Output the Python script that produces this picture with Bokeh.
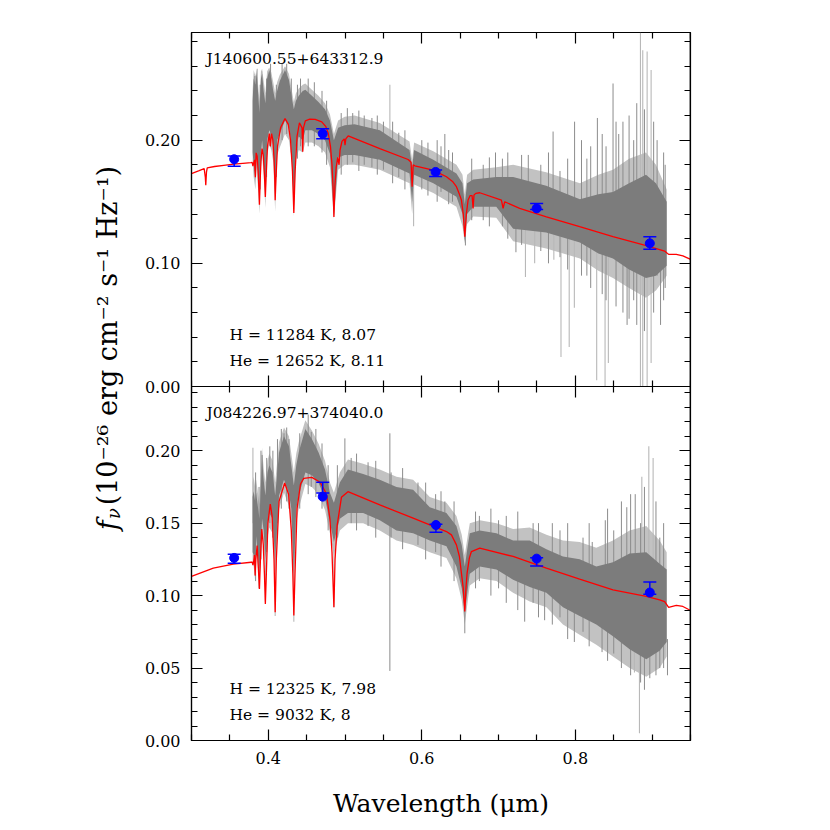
import math
from bokeh.plotting import figure
from bokeh.layouts import row
from bokeh.models import (Range1d, LinearAxis, FixedTicker, Label, Whisker,
                          ColumnDataSource, TeeHead, NumeralTickFormatter, CustomJSTickFormatter)
from bokeh.embed import file_html
from bokeh.resources import INLINE

FONT = "DejaVu Serif"

# ---------------- axis ticks ----------------
x_major = [0.4, 0.6, 0.8]
x_minor = [0.30, 0.35, 0.45, 0.50, 0.55, 0.65, 0.70, 0.75, 0.85, 0.90, 0.95]
top_y_major = [0.0, 0.1, 0.2]
top_y_minor = [0.02, 0.04, 0.06, 0.08, 0.12, 0.14, 0.16, 0.18, 0.22, 0.24, 0.26, 0.28]
bot_y_major = [0.0, 0.05, 0.10, 0.15, 0.20]
bot_y_minor = [0.01, 0.02, 0.03, 0.04, 0.06, 0.07, 0.08, 0.09, 0.11, 0.12, 0.13, 0.14,
               0.16, 0.17, 0.18, 0.19, 0.21, 0.22, 0.23, 0.24]

# axis limits of each panel
x_limits = (0.3, 0.95)
top_y_max = 0.2874
bot_y_max = 0.2443

# ---------------- top panel : J140600.55+643312.9 ----------------
top_name = "J140600.55+643312.9"
top_fit_h = "H = 11284 K, 8.07"
top_fit_he = "He = 12652 K, 8.11"

top_model_wl = [0.300, 0.310, 0.3165, 0.3180, 0.3186, 0.3195, 0.3205, 0.330, 0.342, 0.355, 0.367,
                0.3775, 0.3790, 0.3800, 0.3810, 0.3822, 0.3832, 0.3842, 0.3855, 0.3868, 0.3878,
                0.3885, 0.3893, 0.3905, 0.3919, 0.3935, 0.3950, 0.3962, 0.3973, 0.3990, 0.4013,
                0.4026, 0.4043, 0.4060, 0.4075, 0.4085, 0.4090, 0.4100, 0.4120, 0.4160, 0.4218,
                0.4260, 0.4290, 0.4315, 0.4333, 0.4350, 0.4375, 0.4406, 0.4440, 0.4449, 0.4458,
                0.4483, 0.4540, 0.4611, 0.4697, 0.4750, 0.4782, 0.4810, 0.4830, 0.4845, 0.4855,
                0.4868, 0.4885, 0.4905, 0.4922, 0.4935, 0.4960, 0.4990, 0.5000, 0.5010, 0.5041,
                0.5453, 0.5822, 0.5860, 0.5874, 0.5888, 0.5909, 0.6147, 0.6321, 0.6400, 0.6451,
                0.6490, 0.6516, 0.6540, 0.6560, 0.6580, 0.6603, 0.6630, 0.6655, 0.6668, 0.6680,
                0.6703, 0.6755, 0.7037, 0.7059, 0.7080, 0.7275, 0.7623, 0.8056, 0.8490, 0.8924,
                0.9163, 0.9200, 0.9215, 0.9315, 0.9401, 0.9501]
top_model_fl = [0.1729, 0.1752, 0.1769, 0.1700, 0.1634, 0.1740, 0.1775, 0.1786, 0.1796, 0.1805, 0.1812,
                0.1818, 0.1820, 0.1790, 0.1815, 0.1840, 0.1700, 0.1897, 0.1870, 0.1750, 0.1600,
                0.1476, 0.1650, 0.1830, 0.1932, 0.1880, 0.1720, 0.1539, 0.1720, 0.1950, 0.2054,
                0.1950, 0.2054, 0.2000, 0.1850, 0.1680, 0.1512, 0.1680, 0.1950, 0.2100, 0.2176,
                0.2130, 0.2000, 0.1750, 0.1408, 0.1750, 0.2030, 0.2141, 0.2100, 0.1905, 0.2100,
                0.2157, 0.2170, 0.2168, 0.2149, 0.2110, 0.2054, 0.1950, 0.1800, 0.1600, 0.1376,
                0.1630, 0.1780, 0.1860, 0.1800, 0.1920, 0.1990, 0.2010, 0.1960, 0.2010, 0.2035,
                0.1932, 0.1843, 0.1820, 0.1622, 0.1800, 0.1792, 0.1757, 0.1703, 0.1665, 0.1622,
                0.1560, 0.1514, 0.1400, 0.1216, 0.1400, 0.1514, 0.1550, 0.1550, 0.1446, 0.1555,
                0.1568, 0.1573, 0.1514, 0.1446, 0.1500, 0.1446, 0.1378, 0.1297, 0.1216, 0.1143,
                0.1100, 0.1080, 0.1073, 0.1073, 0.1060, 0.1032]

top_spec_wl = [0.3796, 0.3810, 0.3832, 0.3850, 0.3885, 0.3905, 0.3920, 0.3940, 0.3962, 0.3985,
               0.4013, 0.4040, 0.4065, 0.4090, 0.4115, 0.4150, 0.4218, 0.4269, 0.4305, 0.4333,
               0.4360, 0.4397, 0.4449, 0.4483, 0.4568, 0.4654, 0.4739, 0.4803, 0.4855, 0.4910,
               0.4996, 0.5124, 0.5453, 0.5840, 0.5874, 0.5900, 0.6150, 0.6451, 0.6530, 0.6560,
               0.6590, 0.6670, 0.6970, 0.7190, 0.7620, 0.8060, 0.8300, 0.8490, 0.8700, 0.8920,
               0.9050, 0.9190]
top_spec_lo = [0.190, 0.180, 0.168, 0.190, 0.150, 0.190, 0.200, 0.185, 0.155, 0.200,
               0.208, 0.205, 0.195, 0.152, 0.200, 0.205, 0.216, 0.211, 0.195, 0.142,
               0.195, 0.203, 0.200, 0.208, 0.208, 0.205, 0.200, 0.189, 0.138, 0.186,
               0.188, 0.188, 0.184, 0.173, 0.150, 0.172, 0.165, 0.154, 0.140, 0.118,
               0.140, 0.146, 0.146, 0.128, 0.125, 0.117, 0.108, 0.104, 0.095, 0.088,
               0.090, 0.098]
top_spec_hi = [0.232, 0.250, 0.245, 0.255, 0.222, 0.250, 0.254, 0.240, 0.230, 0.250,
               0.257, 0.250, 0.240, 0.232, 0.240, 0.248, 0.257, 0.249, 0.235, 0.225,
               0.232, 0.236, 0.240, 0.241, 0.236, 0.231, 0.225, 0.216, 0.200, 0.210,
               0.212, 0.213, 0.208, 0.192, 0.178, 0.192, 0.184, 0.173, 0.165, 0.148,
               0.165, 0.168, 0.170, 0.170, 0.163, 0.152, 0.156, 0.158, 0.165, 0.172,
               0.165, 0.150]
top_spec_outer_lo = [0.182, 0.170, 0.160, 0.178, 0.140, 0.178, 0.188, 0.172, 0.145, 0.188,
                     0.196, 0.192, 0.182, 0.142, 0.188, 0.194, 0.205, 0.200, 0.184, 0.138,
                     0.184, 0.192, 0.190, 0.198, 0.198, 0.195, 0.190, 0.178, 0.136, 0.176,
                     0.180, 0.180, 0.176, 0.165, 0.140, 0.164, 0.157, 0.146, 0.130, 0.116,
                     0.132, 0.138, 0.137, 0.118, 0.112, 0.104, 0.094, 0.088, 0.080, 0.072,
                     0.078, 0.090]
top_spec_outer_hi = [0.240, 0.257, 0.252, 0.258, 0.232, 0.256, 0.258, 0.248, 0.238, 0.256,
                     0.259, 0.255, 0.247, 0.238, 0.247, 0.253, 0.260, 0.254, 0.241, 0.231,
                     0.238, 0.242, 0.245, 0.246, 0.241, 0.236, 0.230, 0.221, 0.205, 0.216,
                     0.219, 0.220, 0.214, 0.199, 0.184, 0.198, 0.191, 0.180, 0.172, 0.156,
                     0.172, 0.176, 0.178, 0.180, 0.174, 0.165, 0.172, 0.176, 0.185, 0.190,
                     0.180, 0.160]

top_spike_light_x = [0.3857, 0.3915, 0.4221, 0.5584, 0.5893, 0.7350, 0.7470, 0.7720, 0.7813,
                     0.7920, 0.7987, 0.8278, 0.8387, 0.8430, 0.8848, 0.8878, 0.8935, 0.8987]
top_spike_light_lo = [0.200, 0.205, 0.220, 0.200, 0.130, 0.089, 0.100, 0.103, 0.024,
                      0.032, 0.064, 0.005, 0.000, 0.019, 0.000, 0.000, 0.000, 0.019]
top_spike_light_hi = [0.258, 0.256, 0.259, 0.245, 0.175, 0.135, 0.130, 0.130, 0.125,
                      0.125, 0.120, 0.110, 0.108, 0.108, 0.290, 0.273, 0.272, 0.257]
top_spike_dark_x = [0.3825, 0.3895, 0.3978, 0.4030, 0.4105, 0.4180, 0.4240, 0.4300, 0.4380,
                    0.4420, 0.4520, 0.4600, 0.4700, 0.4760, 0.4950, 0.5030, 0.5100, 0.5180,
                    0.5250, 0.5350, 0.5420, 0.5500, 0.5620, 0.5700, 0.5780, 0.6000, 0.6080,
                    0.6200, 0.6250, 0.6300, 0.6350, 0.6400, 0.6568, 0.6650, 0.6800, 0.6880,
                    0.6960, 0.7050, 0.7120, 0.7226, 0.7300, 0.7387, 0.7550, 0.7650, 0.7710,
                    0.7800, 0.7900, 0.7990, 0.8080, 0.8150, 0.8200, 0.8287, 0.8350, 0.8400,
                    0.8491, 0.8530, 0.8565, 0.8620, 0.8674, 0.8700, 0.8760, 0.8800, 0.8900,
                    0.9020, 0.9065, 0.9110, 0.9150, 0.9170]
top_spike_dark_lo = [0.175, 0.160, 0.170, 0.195, 0.170, 0.200, 0.205, 0.190, 0.185,
                     0.195, 0.195, 0.195, 0.190, 0.180, 0.172, 0.180, 0.182, 0.175,
                     0.180, 0.178, 0.172, 0.176, 0.165, 0.170, 0.160, 0.160, 0.155,
                     0.150, 0.158, 0.170, 0.148, 0.150, 0.1145, 0.135, 0.135, 0.130,
                     0.160, 0.130, 0.120, 0.109, 0.115, 0.150, 0.110, 0.100, 0.150,
                     0.105, 0.095, 0.140, 0.090, 0.090, 0.080, 0.140, 0.075, 0.070,
                     0.150, 0.065, 0.120, 0.060, 0.050, 0.055, 0.070, 0.050, 0.045,
                     0.060, 0.090, 0.050, 0.070, 0.080]
top_spike_dark_hi = [0.252, 0.245, 0.250, 0.262, 0.245, 0.262, 0.262, 0.250, 0.245,
                     0.250, 0.250, 0.247, 0.240, 0.232, 0.222, 0.226, 0.222, 0.224,
                     0.220, 0.218, 0.220, 0.215, 0.215, 0.206, 0.208, 0.200, 0.198,
                     0.200, 0.195, 0.205, 0.192, 0.190, 0.130, 0.185, 0.180, 0.186,
                     0.190, 0.185, 0.190, 0.135, 0.188, 0.188, 0.180, 0.190, 0.207,
                     0.175, 0.185, 0.215, 0.200, 0.185, 0.195, 0.218, 0.205, 0.195,
                     0.246, 0.215, 0.205, 0.215, 0.120, 0.220, 0.200, 0.230, 0.225,
                     0.215, 0.200, 0.120, 0.190, 0.180]

top_phot_wl = [0.3556, 0.4709, 0.6180, 0.7496, 0.8970]
top_phot_fl = [0.1845, 0.2052, 0.1742, 0.1446, 0.1162]
top_phot_lo = [0.1788, 0.2011, 0.1704, 0.1438, 0.1114]
top_phot_hi = [0.1872, 0.2092, 0.1758, 0.1486, 0.1216]

# ---------------- bottom panel : J084226.97+374040.0 ----------------
bot_name = "J084226.97+374040.0"
bot_fit_h = "H = 12325 K, 7.98"
bot_fit_he = "He = 9032 K, 8"

bot_model_wl = [0.300, 0.3284, 0.3544, 0.3778, 0.3790, 0.3800, 0.3810, 0.3820, 0.3829, 0.3838,
                0.3855, 0.3868, 0.3885, 0.3898, 0.3915, 0.3935, 0.3950, 0.3962, 0.3975, 0.3995,
                0.4026, 0.4050, 0.4075, 0.4090, 0.4105, 0.4140, 0.4214, 0.4265, 0.4300, 0.4320,
                0.4333, 0.4348, 0.4375, 0.4420, 0.4462, 0.4568, 0.4675, 0.4740, 0.4761, 0.4803,
                0.4830, 0.4855, 0.4870, 0.4897, 0.4953, 0.5038, 0.5453, 0.5887, 0.6321, 0.6386,
                0.6451, 0.6490, 0.6516, 0.6540, 0.6560, 0.6575, 0.6590, 0.6620, 0.6646, 0.6755,
                0.7189, 0.7623, 0.8056, 0.8490, 0.8924, 0.9098, 0.9163, 0.9215, 0.9315, 0.9401,
                0.9501]
bot_model_fl = [0.1133, 0.1189, 0.1217, 0.1230, 0.1232, 0.1210, 0.1235, 0.1280, 0.1138, 0.1250,
                0.1345, 0.1220, 0.1046, 0.1250, 0.1460, 0.1350, 0.1150, 0.0943, 0.1150, 0.1500,
                0.1632, 0.1550, 0.1250, 0.0885, 0.1250, 0.1650, 0.1777, 0.1700, 0.1450, 0.1150,
                0.0862, 0.1150, 0.1600, 0.1770, 0.1809, 0.1816, 0.1782, 0.1720, 0.1690, 0.1529,
                0.1300, 0.0920, 0.1250, 0.1483, 0.1678, 0.1717, 0.1626, 0.1534, 0.1442, 0.1419,
                0.1350, 0.1270, 0.1155, 0.1050, 0.0890, 0.1050, 0.1155, 0.1260, 0.1304, 0.1327,
                0.1270, 0.1189, 0.1113, 0.1040, 0.0994, 0.0971, 0.0959, 0.0918, 0.0932, 0.0925,
                0.0897]

bot_spec_wl = [0.3796, 0.3810, 0.3829, 0.3842, 0.3885, 0.3919, 0.3940, 0.3962, 0.3990, 0.4013,
               0.4056, 0.4090, 0.4141, 0.4205, 0.4269, 0.4300, 0.4333, 0.4365, 0.4397, 0.4483,
               0.4568, 0.4654, 0.4739, 0.4803, 0.4855, 0.4932, 0.5038, 0.5236, 0.5453, 0.5670,
               0.5887, 0.6104, 0.6321, 0.6451, 0.6520, 0.6560, 0.6600, 0.6625, 0.6755, 0.6972,
               0.7189, 0.7406, 0.7623, 0.7839, 0.8056, 0.8273, 0.8490, 0.8707, 0.8924, 0.9098,
               0.9190]
bot_spec_lo = [0.130, 0.128, 0.118, 0.141, 0.118, 0.153, 0.145, 0.125, 0.150, 0.157,
               0.153, 0.125, 0.169, 0.180, 0.171, 0.160, 0.115, 0.160, 0.169, 0.185,
               0.183, 0.178, 0.167, 0.151, 0.137, 0.153, 0.157, 0.157, 0.152, 0.145,
               0.143, 0.138, 0.134, 0.120, 0.105, 0.088, 0.105, 0.115, 0.120, 0.118,
               0.111, 0.106, 0.102, 0.092, 0.086, 0.080, 0.072, 0.063, 0.056, 0.062,
               0.068]
bot_spec_hi = [0.168, 0.172, 0.165, 0.171, 0.153, 0.194, 0.180, 0.169, 0.185, 0.190,
               0.185, 0.169, 0.199, 0.210, 0.203, 0.190, 0.176, 0.190, 0.199, 0.215,
               0.208, 0.199, 0.187, 0.171, 0.164, 0.178, 0.187, 0.184, 0.180, 0.175,
               0.173, 0.161, 0.157, 0.148, 0.135, 0.120, 0.135, 0.143, 0.145, 0.143,
               0.138, 0.138, 0.132, 0.127, 0.125, 0.120, 0.123, 0.129, 0.130, 0.122,
               0.118]
bot_spec_outer_lo = [0.122, 0.120, 0.110, 0.132, 0.108, 0.143, 0.135, 0.115, 0.140, 0.147,
                     0.143, 0.115, 0.160, 0.171, 0.162, 0.150, 0.105, 0.150, 0.160, 0.177,
                     0.175, 0.170, 0.159, 0.143, 0.128, 0.145, 0.150, 0.150, 0.145, 0.138,
                     0.135, 0.130, 0.126, 0.112, 0.097, 0.080, 0.097, 0.107, 0.112, 0.110,
                     0.102, 0.096, 0.092, 0.080, 0.073, 0.066, 0.058, 0.050, 0.044, 0.050,
                     0.058]
bot_spec_outer_hi = [0.178, 0.182, 0.175, 0.180, 0.163, 0.202, 0.188, 0.178, 0.193, 0.198,
                     0.193, 0.178, 0.206, 0.216, 0.210, 0.198, 0.185, 0.198, 0.206, 0.221,
                     0.214, 0.205, 0.193, 0.178, 0.171, 0.185, 0.194, 0.191, 0.187, 0.182,
                     0.180, 0.168, 0.164, 0.155, 0.142, 0.128, 0.142, 0.150, 0.152, 0.150,
                     0.146, 0.147, 0.142, 0.138, 0.137, 0.133, 0.138, 0.145, 0.148, 0.138,
                     0.130]

bot_spike_light_x = [0.3800, 0.4483, 0.4333, 0.4090, 0.3962, 0.4855, 0.8835, 0.8866, 0.8957,
                     0.9013, 0.8770]
bot_spike_light_lo = [0.150, 0.200, 0.082, 0.086, 0.096, 0.092, 0.005, 0.100, 0.060,
                      0.100, 0.047]
bot_spike_light_hi = [0.202, 0.216, 0.130, 0.130, 0.130, 0.140, 0.080, 0.182, 0.203,
                      0.195, 0.070]
bot_spike_dark_x = [0.3835, 0.3880, 0.3905, 0.3920, 0.3980, 0.4020, 0.4060, 0.4120, 0.4170,
                    0.4205, 0.4240, 0.4270, 0.4410, 0.4520, 0.4560, 0.4620, 0.4700, 0.4780,
                    0.4900, 0.4998, 0.5080, 0.5150, 0.5300, 0.5400, 0.5584, 0.5600, 0.5750,
                    0.5950, 0.6050, 0.6180, 0.6250, 0.6300, 0.6420, 0.6560, 0.6700, 0.6750,
                    0.6900, 0.7000, 0.7100, 0.7250, 0.7340, 0.7450, 0.7520, 0.7600, 0.7700,
                    0.7800, 0.7900, 0.7987, 0.8100, 0.8180, 0.8220, 0.8348, 0.8390, 0.8420,
                    0.8500, 0.8600, 0.8670, 0.8720, 0.8780, 0.8850, 0.8900, 0.8970, 0.9050,
                    0.9100, 0.9150, 0.9200]
bot_spike_dark_lo = [0.110, 0.105, 0.125, 0.170, 0.130, 0.150, 0.140, 0.150, 0.160,
                     0.190, 0.165, 0.160, 0.160, 0.170, 0.175, 0.168, 0.160, 0.145,
                     0.140, 0.170, 0.150, 0.145, 0.148, 0.140, 0.048, 0.140, 0.132,
                     0.135, 0.125, 0.130, 0.120, 0.140, 0.110, 0.074, 0.105, 0.110,
                     0.100, 0.105, 0.095, 0.090, 0.082, 0.095, 0.085, 0.083, 0.080,
                     0.085, 0.070, 0.068, 0.075, 0.065, 0.110, 0.061, 0.110, 0.055,
                     0.060, 0.050, 0.070, 0.045, 0.080, 0.040, 0.035, 0.043, 0.045,
                     0.050, 0.050, 0.045]
bot_spike_dark_hi = [0.185, 0.175, 0.200, 0.197, 0.195, 0.203, 0.200, 0.208, 0.215,
                     0.212, 0.216, 0.208, 0.212, 0.225, 0.213, 0.215, 0.205, 0.190,
                     0.190, 0.2085, 0.195, 0.198, 0.192, 0.193, 0.212, 0.185, 0.188,
                     0.178, 0.178, 0.170, 0.172, 0.165, 0.165, 0.095, 0.158, 0.155,
                     0.160, 0.152, 0.155, 0.158, 0.110, 0.150, 0.150, 0.105, 0.150,
                     0.145, 0.150, 0.090, 0.140, 0.150, 0.137, 0.085, 0.152, 0.160,
                     0.145, 0.165, 0.161, 0.170, 0.170, 0.150, 0.175, 0.070, 0.165,
                     0.140, 0.150, 0.070]

bot_phot_wl = [0.3556, 0.4709, 0.6184, 0.7496, 0.8970]
bot_phot_fl = [0.1260, 0.1683, 0.1487, 0.1255, 0.1021]
bot_phot_lo = [0.1223, 0.1708, 0.1437, 0.1204, 0.1009]
bot_phot_hi = [0.1285, 0.1782, 0.1492, 0.1261, 0.1094]

y_label_f = "f"
y_label_nu = "\u03bd"
y_label_main = "(10\u207b\u00b2\u2076 erg cm\u207b\u00b2 s\u207b\u00b9 Hz\u207b\u00b9)"
x_label = "Wavelength (\u03bcm)"

# ---------------- layout constants ----------------
FRAME_W = 499
PANEL_H = 354
LAB_W = 140
LEFT_B = 51
RIGHT_B = 20
TOP_B = 32
BOT_B = 88

# One frame holds both panels: the bottom panel uses the default y range (doubled so that
# it fills the lower half), the top panel an extra range that fills the upper half.
p = figure(frame_width=FRAME_W, frame_height=2 * PANEL_H,
           x_range=Range1d(*x_limits), y_range=Range1d(0, 2 * bot_y_max),
           output_backend="svg", toolbar_location=None,
           x_axis_type=None, y_axis_type=None,
           min_border_left=LEFT_B, min_border_right=RIGHT_B,
           min_border_top=TOP_B, min_border_bottom=BOT_B)
p.extra_y_ranges = {"top": Range1d(-top_y_max, top_y_max)}
p.outline_line_color = "black"
p.outline_line_width = 1.2
p.background_fill_color = "white"
p.border_fill_color = "white"

# the left axis lives on the default range; top-panel values are converted to it with the
# same linear relation that links the two ranges
to_default = bot_y_max / top_y_max
left_major = bot_y_major + [bot_y_max + v * to_default for v in top_y_major]
left_minor = bot_y_minor + [bot_y_max + v * to_default for v in top_y_minor]
left_formatter = CustomJSTickFormatter(args=dict(split=bot_y_max, k=to_default), code="""
    let v = (tick >= split - 1e-9) ? (tick - split) / k : tick;
    if (Math.abs(v) < 1e-9) { v = 0; }
    return v.toFixed(2);
""")


def tick_style(ax):
    ax.axis_line_color = "black"
    ax.axis_line_width = 1.2
    ax.major_tick_line_color = "black"
    ax.major_tick_line_width = 1.2
    ax.minor_tick_line_color = "black"
    ax.minor_tick_line_width = 1.2
    return ax


def labeled_axis(ticks, minor, formatter, axis_label=None, **kw):
    ax = tick_style(LinearAxis(ticker=FixedTicker(ticks=ticks, minor_ticks=minor),
                               major_tick_in=11, major_tick_out=0,
                               minor_tick_in=6, minor_tick_out=0, **kw))
    ax.formatter = formatter
    ax.major_label_text_font = FONT
    ax.major_label_text_font_size = "16px"
    ax.major_label_text_color = "black"
    ax.major_label_standoff = 11
    if axis_label is not None:
        ax.axis_label = axis_label
        ax.axis_label_text_font = FONT
        ax.axis_label_text_font_size = "25px"
        ax.axis_label_text_font_style = "normal"
        ax.axis_label_text_color = "black"
        ax.axis_label_standoff = 22
    return ax


def add_tick_only(side, ticks, minor, both_ways=False, **kw):
    # label-less axes: the ticks are drawn as minor ticks of two lengths
    for pos, length in ((ticks, 11), (minor, 6)):
        ax = tick_style(LinearAxis(ticker=FixedTicker(ticks=[], minor_ticks=pos),
                                   major_tick_in=0, major_tick_out=0,
                                   minor_tick_in=length,
                                   minor_tick_out=length if both_ways else 0,
                                   major_label_standoff=0, **kw))
        p.add_layout(ax, side)


# left (both panels, one axis)
p.add_layout(labeled_axis(left_major, left_minor, left_formatter), "left")
# right
add_tick_only("right", bot_y_major, bot_y_minor, fixed_location=x_limits[1])
add_tick_only("right", top_y_major, top_y_minor, y_range_name="top", fixed_location=x_limits[1])
# top edge and the shared edge between the panels
add_tick_only("above", x_major, x_minor, y_range_name="top", fixed_location=top_y_max)
add_tick_only("below", x_major, x_minor, both_ways=True, y_range_name="top", fixed_location=0.0)
# bottom
p.add_layout(labeled_axis(x_major, x_minor, NumeralTickFormatter(format="0.0"),
                          axis_label=x_label), "below")


def draw_panel(rng, model_wl, model_fl, spec_wl, spec_lo, spec_hi, out_lo, out_hi,
               sl_x, sl_lo, sl_hi, sd_x, sd_lo, sd_hi, ph_wl, ph_fl, ph_lo, ph_hi,
               name, fit_h, fit_he, y0):
    kw = dict(y_range_name=rng)
    # observed spectrum: light outer envelope, darker core, and the largest spikes
    p.varea(x=spec_wl, y1=out_lo, y2=out_hi, fill_color="#c2c2c2", **kw)
    p.segment(x0=sl_x, y0=sl_lo, x1=sl_x, y1=sl_hi, line_color="#b8b8b8", line_width=1.1, **kw)
    p.segment(x0=sd_x, y0=sd_lo, x1=sd_x, y1=sd_hi, line_color="#8c8c8c", line_width=1.0, **kw)
    p.varea(x=spec_wl, y1=spec_lo, y2=spec_hi, fill_color="#7c7c7c", **kw)
    # model
    p.line(model_wl, model_fl, line_color="#ff0000", line_width=1.3, **kw)
    # photometry
    src = ColumnDataSource(dict(x=ph_wl, y=ph_fl, lo=ph_lo, hi=ph_hi))
    w = Whisker(base="x", lower="lo", upper="hi", source=src, dimension="height",
                line_color="#0000ff", line_width=1.5, level="glyph", **kw,
                upper_head=TeeHead(size=13, line_color="#0000ff", line_width=1.5),
                lower_head=TeeHead(size=13, line_color="#0000ff", line_width=1.5))
    p.add_layout(w)
    p.scatter("x", "y", source=src, size=9, fill_color="#0000ff", line_color="#0000ff", **kw)

    p.add_layout(Label(x=15, y=y0 + PANEL_H - 26, x_units="screen", y_units="screen", text=name,
                       text_font=FONT, text_font_size="15.5px", text_baseline="middle",
                       text_color="black"))
    p.add_layout(Label(x=38, y=y0 + 52, x_units="screen", y_units="screen", text=fit_h,
                       text_font=FONT, text_font_size="15.5px", text_baseline="middle",
                       text_color="black"))
    p.add_layout(Label(x=38, y=y0 + 26, x_units="screen", y_units="screen", text=fit_he,
                       text_font=FONT, text_font_size="15.5px", text_baseline="middle",
                       text_color="black"))


draw_panel("top", top_model_wl, top_model_fl, top_spec_wl, top_spec_lo, top_spec_hi,
           top_spec_outer_lo, top_spec_outer_hi,
           top_spike_light_x, top_spike_light_lo, top_spike_light_hi,
           top_spike_dark_x, top_spike_dark_lo, top_spike_dark_hi,
           top_phot_wl, top_phot_fl, top_phot_lo, top_phot_hi,
           top_name, top_fit_h, top_fit_he, PANEL_H)
draw_panel("default", bot_model_wl, bot_model_fl, bot_spec_wl, bot_spec_lo, bot_spec_hi,
           bot_spec_outer_lo, bot_spec_outer_hi,
           bot_spike_light_x, bot_spike_light_lo, bot_spike_light_hi,
           bot_spike_dark_x, bot_spike_dark_lo, bot_spike_dark_hi,
           bot_phot_wl, bot_phot_fl, bot_phot_lo, bot_phot_hi,
           bot_name, bot_fit_h, bot_fit_he, 0)

# y-axis title, drawn in a narrow strip to the left of the plot
TOTAL_H = TOP_B + 2 * PANEL_H + BOT_B
lab = figure(width=LAB_W, height=TOTAL_H, x_range=Range1d(0, LAB_W), y_range=Range1d(0, TOTAL_H),
             output_backend="svg", toolbar_location=None, x_axis_type=None, y_axis_type=None,
             min_border=0)
lab.outline_line_color = None
lab.background_fill_color = "white"
lab.border_fill_color = "white"

base_x = 107
lab.add_layout(Label(x=base_x, y=TOTAL_H - 582, text=y_label_f, angle=math.pi / 2, text_font=FONT,
                     text_font_style="italic", text_font_size="27px",
                     text_align="left", text_baseline="alphabetic", text_color="black"))
lab.add_layout(Label(x=base_x + 6, y=TOTAL_H - 569, text=y_label_nu, angle=math.pi / 2,
                     text_font=FONT, text_font_style="italic", text_font_size="18px",
                     text_align="left", text_baseline="alphabetic", text_color="black"))
lab.add_layout(Label(x=base_x, y=TOTAL_H - 553, text=y_label_main, angle=math.pi / 2,
                     text_font=FONT, text_font_size="27px",
                     text_align="left", text_baseline="alphabetic", text_color="black"))

layout = row(lab, p, spacing=0)

open("out.html", "w").write(file_html(layout, INLINE))
